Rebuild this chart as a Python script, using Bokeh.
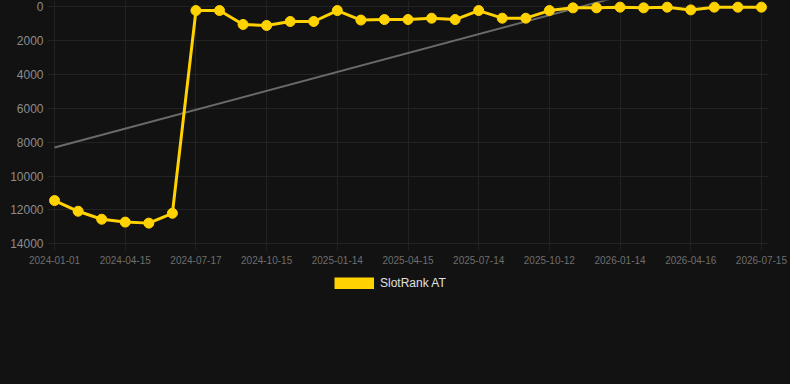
from bokeh.plotting import figure
from bokeh.layouts import column
from bokeh.models import Range1d, FixedTicker, Legend, LegendItem, ColumnDataSource
from bokeh.embed import file_html
from bokeh.resources import INLINE

# ---- data ----
tick_labels = ["2024-01-01", "2024-04-15", "2024-07-17", "2024-10-15", "2025-01-14",
               "2025-04-15", "2025-07-14", "2025-10-12", "2026-01-14", "2026-04-16",
               "2026-07-15"]
rank = [11450, 12080, 12550, 12720, 12780, 12200, 240, 240, 1060, 1120,
        885, 885, 240, 800, 770, 770, 690, 770, 240, 690,
        690, 240, 80, 80, 40, 80, 40, 200, 40, 40, 40]
trend_start = 8320
trend_end = -2830
y_ticks = [0, 2000, 4000, 6000, 8000, 10000, 12000, 14000]
series_name = "SlotRank AT"

idx = list(range(len(rank)))
tick_idx = [i * 3 for i in range(len(tick_labels))]

BG = "#121212"
YELLOW = "#FFD200"
GRID = "#222222"

p = figure(width=790, height=270, output_backend="svg", toolbar_location=None,
           x_range=Range1d(-0.3, 30.3), y_range=Range1d(14159, -354),
           min_border_left=47, min_border_right=22, min_border_top=0,
           min_border_bottom=24)
p.background_fill_color = BG
p.border_fill_color = BG
p.outline_line_color = None
p.styles = {"background-color": BG}

p.xgrid.ticker = FixedTicker(ticks=tick_idx)
p.ygrid.ticker = FixedTicker(ticks=y_ticks)
p.xgrid.grid_line_color = GRID
p.ygrid.grid_line_color = GRID

p.xaxis.ticker = FixedTicker(ticks=tick_idx)
p.xaxis.major_label_overrides = {t: l for t, l in zip(tick_idx, tick_labels)}
p.xaxis.axis_line_color = None
p.xaxis.major_tick_line_color = GRID
p.xaxis.major_tick_out = 4
p.xaxis.major_tick_in = 0
p.xaxis.minor_tick_line_color = None
p.xaxis.major_label_standoff = 5
p.xaxis.major_label_text_font = "Liberation Sans"
p.xaxis.major_label_text_font_size = "10px"
p.xaxis.major_label_text_color = "#6e6e6e"

p.yaxis.ticker = FixedTicker(ticks=y_ticks)
p.yaxis.axis_line_color = None
p.yaxis.major_tick_line_color = None
p.yaxis.minor_tick_line_color = None
p.yaxis.major_tick_out = 0
p.yaxis.major_tick_in = 0
p.yaxis.major_label_standoff = 4
p.yaxis.major_label_text_font = "Liberation Sans"
p.yaxis.major_label_text_font_size = "12px"
p.yaxis.major_label_text_color = "#8c8c8c"

# trend line
p.line(x=[idx[0], idx[-1]], y=[trend_start, trend_end], line_color="#6a6a6a", line_width=2)

src = ColumnDataSource(dict(x=idx, y=rank))
p.line("x", "y", source=src, line_color=YELLOW, line_width=3)
p.scatter("x", "y", source=src, size=10, fill_color=YELLOW, line_color=YELLOW)

# legend strip
q = figure(width=790, height=114, output_backend="svg", toolbar_location=None,
           x_range=Range1d(0, 1), y_range=Range1d(0, 1), min_border=0)
q.background_fill_color = BG
q.border_fill_color = BG
q.outline_line_color = None
q.axis.visible = False
q.grid.visible = False
q.styles = {"background-color": BG}

nan = float("nan")
dummy = q.line(x=[nan], y=[nan], line_color=YELLOW, line_width=12, line_cap="butt")
legend = Legend(items=[LegendItem(label=series_name, renderers=[dummy])],
                location=(287, 94), orientation="horizontal",
                glyph_width=40, glyph_height=12,
                label_text_font="Liberation Sans", label_text_font_size="12px",
                label_text_color="#e0e0e0", background_fill_alpha=0,
                border_line_alpha=0, padding=0, margin=0, label_standoff=6,
                label_height=12)
q.add_layout(legend, "center")

layout = column(p, q, spacing=0, styles={"background-color": BG})

html = file_html(layout, INLINE)
html = html.replace("<body>", '<body style="background-color:#121212;margin:0">', 1)
open("out.html", "w").write(html)
